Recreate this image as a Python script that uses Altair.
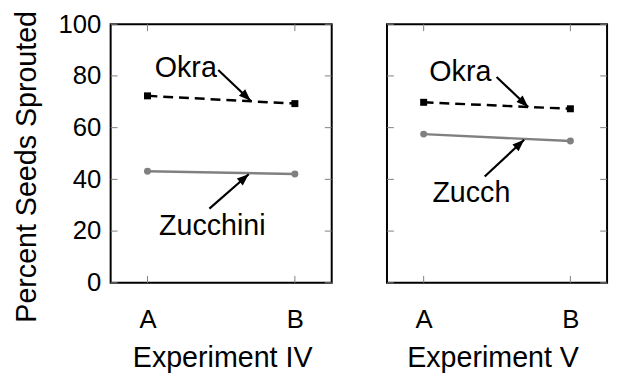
import math
import altair as alt
import pandas as pd

# ---------------- data ----------------
conditions = ["A", "B"]
cond_pos = [0, 1]
okra_iv = [72.3, 69.3]
zucc_iv = [43.1, 42.1]
okra_v = [69.8, 67.3]
zucc_v = [57.5, 54.8]
y_ticks = [0, 20, 40, 60, 80, 100]

exp_titles = ["Experiment IV", "Experiment V"]

# annotation labels (data units)
lab_iv_text = ["Okra", "Zucchini"]
lab_iv_x = [0.26, 0.44]
lab_iv_y = [83.2, 22.0]
arr_iv_x1 = [0.48, 0.42]
arr_iv_y1 = [82.3, 28.7]
arr_iv_x2 = [0.70, 0.687]
arr_iv_y2 = [70.4, 42.0]

lab_v_text = ["Okra", "Zucch"]
lab_v_x = [0.25, 0.325]
lab_v_y = [81.3, 34.7]
arr_v_x1 = [0.497, 0.416]
arr_v_y1 = [79.6, 41.1]
arr_v_x2 = [0.712, 0.685]
arr_v_y2 = [68.0, 55.3]

# ---------------- style ----------------
FONT = "Liberation Sans"
FS_TICK = 26
FS_TITLE = 29
FS_NOTE = 29
H = 262
XDOM = [-0.25, 1.25]
ARROW = "M0,0L-0.38,1L0.38,1Z"
label_expr = "datum.value == 0 ? '" + conditions[0] + "' : '" + conditions[1] + "'"


def head_angles(x1, y1, x2, y2, w):
    out = []
    for a, b, c, d in zip(x1, y1, x2, y2):
        dx = (c - a) * w / (XDOM[1] - XDOM[0])
        dy = -(d - b) * H / 100.0
        ang = math.degrees(math.atan2(dx, -dy)) % 360
        out.append(ang)
    return out


def panel(title, okra, zucc, lt, lx, ly, x1, y1, x2, y2, show_y, title_x, W):
    xs = alt.Scale(domain=XDOM, nice=False, zero=False)
    ys = alt.Scale(domain=[0, 100], nice=False, zero=False)
    xaxis = alt.Axis(values=cond_pos, labelExpr=label_expr, ticks=False, tickSize=0,
                     domain=False, grid=False, labelPadding=24, title=title,
                     titlePadding=12, titleX=title_x)
    if show_y:
        yaxis = alt.Axis(values=y_ticks, ticks=False, tickSize=0, domain=False, grid=False,
                         labelPadding=10, title="Percent Seeds Sprouted", titlePadding=17,
                         titleY=144)
    else:
        yaxis = None

    def X(f):
        return alt.X(f, scale=xs, axis=xaxis)

    def Y(f):
        return alt.Y(f, scale=ys, axis=yaxis)

    okra_df = pd.DataFrame({"x": cond_pos, "y": okra})
    zucc_df = pd.DataFrame({"x": cond_pos, "y": zucc})
    yt = pd.DataFrame({"y": y_ticks})
    xt = pd.DataFrame({"x": cond_pos})
    lab_df = pd.DataFrame({"text": lt, "x": lx, "y": ly})
    arr_df = pd.DataFrame({"x1": x1, "y1": y1, "x2": x2, "y2": y2,
                           "angle": head_angles(x1, y1, x2, y2, W)})

    tick_col = "#808080"
    yl = alt.Chart(yt).mark_rule(color=tick_col, strokeWidth=1).encode(
        y=Y("y:Q"), x=alt.value(0), x2=alt.value(7))
    yr = alt.Chart(yt).mark_rule(color=tick_col, strokeWidth=1).encode(
        y=Y("y:Q"), x=alt.value(W - 7), x2=alt.value(W))
    xtp = alt.Chart(xt).mark_rule(color=tick_col, strokeWidth=1).encode(
        x=X("x:Q"), y=alt.value(0), y2=alt.value(7))
    xbt = alt.Chart(xt).mark_rule(color=tick_col, strokeWidth=1).encode(
        x=X("x:Q"), y=alt.value(H - 7), y2=alt.value(H))

    zl = alt.Chart(zucc_df).mark_line(color="#808080", strokeWidth=2.5).encode(
        x=X("x:Q"), y=Y("y:Q"))
    zp = alt.Chart(zucc_df).mark_point(shape="circle", filled=True, size=50,
                                       color="#808080", opacity=1).encode(
        x=X("x:Q"), y=Y("y:Q"))
    ol = alt.Chart(okra_df).mark_line(color="black", strokeWidth=2.5,
                                      strokeDash=[10, 6]).encode(
        x=X("x:Q"), y=Y("y:Q"))
    op = alt.Chart(okra_df).mark_point(shape="square", filled=True, size=50,
                                       color="black", opacity=1).encode(
        x=X("x:Q"), y=Y("y:Q"))

    ar = alt.Chart(arr_df).mark_rule(color="black", strokeWidth=2.2).encode(
        x=X("x1:Q"), y=Y("y1:Q"), x2="x2:Q", y2="y2:Q")
    ah = alt.Chart(arr_df).mark_point(shape=ARROW, filled=True, size=576,
                                      color="black", opacity=1).encode(
        x=X("x2:Q"), y=Y("y2:Q"), angle=alt.Angle("angle:Q", scale=None))
    tx = alt.Chart(lab_df).mark_text(font=FONT, fontSize=FS_NOTE, color="black",
                                     align="center", baseline="middle").encode(
        x=X("x:Q"), y=Y("y:Q"), text="text:N")

    return alt.layer(yl, yr, xtp, xbt, zl, zp, ol, op, ar, ah, tx).properties(
        width=W, height=H)


left = panel(exp_titles[0], okra_iv, zucc_iv, lab_iv_text, lab_iv_x, lab_iv_y,
             arr_iv_x1, arr_iv_y1, arr_iv_x2, arr_iv_y2, True, 113, 224)
right = panel(exp_titles[1], okra_v, zucc_v, lab_v_text, lab_v_x, lab_v_y,
              arr_v_x1, arr_v_y1, arr_v_x2, arr_v_y2, False, 107, 223)

chart = alt.hconcat(left, right, spacing=52).properties(
    padding={"left": 3, "top": -1, "right": 3, "bottom": 0}
).configure_view(
    stroke="black", strokeWidth=2
).configure_axis(
    labelFont=FONT, titleFont=FONT, labelFontSize=FS_TICK, titleFontSize=FS_TITLE,
    labelColor="black", titleColor="black", titleFontWeight="normal"
)

chart.save("out.html", embed_options={"renderer": "svg", "actions": False})
